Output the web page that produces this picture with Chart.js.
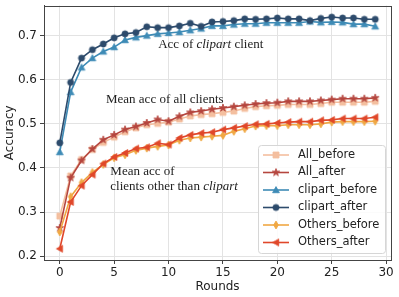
<!DOCTYPE html>
<html><head><meta charset="utf-8">
<script src="https://cdn.jsdelivr.net/npm/chart.js@4/dist/chart.umd.min.js"></script>
<style>html,body{margin:0;padding:0;background:#fff}#wrap{width:399px;height:297px;position:relative}</style>
</head><body><div id="wrap"><canvas id="c" width="399" height="297"></canvas></div>
<script>
const rounds = [0,1,2,3,4,5,6,7,8,9,10,11,12,13,14,15,16,17,18,19,20,21,22,23,24,25,26,27,28,29];
const allBefore = [0.291,0.382,0.419,0.442,0.458,0.470,0.482,0.491,0.498,0.501,0.504,0.511,0.518,0.521,0.523,0.526,0.529,0.535,0.539,0.541,0.542,0.544,0.544,0.544,0.546,0.549,0.549,0.549,0.549,0.551];
const allAfter = [0.264,0.378,0.417,0.443,0.464,0.475,0.487,0.494,0.502,0.510,0.506,0.517,0.526,0.529,0.533,0.536,0.539,0.542,0.545,0.547,0.548,0.551,0.551,0.551,0.553,0.555,0.557,0.557,0.557,0.559];
const clipartBefore = [0.436,0.572,0.628,0.649,0.664,0.674,0.690,0.696,0.700,0.704,0.706,0.708,0.712,0.716,0.722,0.722,0.725,0.727,0.727,0.729,0.729,0.729,0.729,0.732,0.730,0.731,0.730,0.726,0.726,0.721];
const clipartAfter = [0.457,0.594,0.649,0.668,0.681,0.695,0.704,0.707,0.720,0.718,0.718,0.722,0.728,0.721,0.731,0.732,0.734,0.738,0.737,0.738,0.740,0.738,0.738,0.734,0.739,0.742,0.740,0.740,0.737,0.737];
const othersBefore = [0.255,0.335,0.367,0.390,0.408,0.423,0.430,0.440,0.445,0.449,0.452,0.463,0.468,0.470,0.472,0.474,0.483,0.489,0.495,0.496,0.496,0.498,0.498,0.498,0.500,0.504,0.505,0.505,0.505,0.506];
const othersAfter = [0.217,0.323,0.360,0.385,0.410,0.425,0.434,0.444,0.447,0.456,0.453,0.468,0.475,0.479,0.481,0.487,0.491,0.495,0.499,0.500,0.502,0.504,0.505,0.505,0.508,0.509,0.512,0.512,0.512,0.515];
const seriesNames = ['All_before','All_after','clipart_before','clipart_after','Others_before','Others_after'];
const xTicks = [0,5,10,15,20,25,30];
const yTicks = [0.2,0.3,0.4,0.5,0.6,0.7];

const colors = ['#f4bf9f','#b5463f','#3e8bb6','#2d4b6c','#f0a844','#e0472a'];
const shapes = ['square','star','tri','circle','diamond','left'];

function marker(shape, color) {
  const size = 12;
  const c = document.createElement('canvas');
  c.width = size; c.height = size;
  const g = c.getContext('2d');
  const cx = size/2, cy = size/2;
  g.fillStyle = color; g.strokeStyle = color; g.lineWidth = 0.8;
  g.beginPath();
  if (shape === 'circle') { g.arc(cx, cy, 3.1, 0, Math.PI*2); }
  else if (shape === 'square') { g.rect(cx-3, cy-3, 6, 6); }
  else if (shape === 'tri') { const s=3.4; g.moveTo(cx, cy-s); g.lineTo(cx+s, cy+s*0.8); g.lineTo(cx-s, cy+s*0.8); g.closePath(); }
  else if (shape === 'left') { const s=3.4; g.moveTo(cx-s, cy); g.lineTo(cx+s*0.8, cy-s); g.lineTo(cx+s*0.8, cy+s); g.closePath(); }
  else if (shape === 'diamond') { g.moveTo(cx, cy-4); g.lineTo(cx+2.4, cy); g.lineTo(cx, cy+4); g.lineTo(cx-2.4, cy); g.closePath(); }
  else if (shape === 'star') {
    const R=4, r=R*0.382;
    for (let i=0;i<10;i++){ const a=-Math.PI/2 + i*Math.PI/5; const rr = i%2?r:R; const px=cx+rr*Math.cos(a), py=cy+rr*Math.sin(a); if(i===0) g.moveTo(px,py); else g.lineTo(px,py);} g.closePath();
  }
  g.fill(); g.stroke();
  return c;
}

const seriesData = [allBefore, allAfter, clipartBefore, clipartAfter, othersBefore, othersAfter];
const markers = colors.map((c,i)=>marker(shapes[i], c));
const datasets = seriesData.map((arr,i)=>({
  label: seriesNames[i],
  data: rounds.map((r,j)=>({x:r, y:arr[j]})),
  borderColor: colors[i],
  backgroundColor: colors[i],
  borderWidth: 1.6,
  pointStyle: markers[i],
  pointRadius: 3,
  tension: 0,
  order: 6 - i
}));

const annotations = [
  {x: 9.05, y: 0.680, parts: [['Acc of ', false], ['clipart', true], [' client', false]]},
  {x: 4.25, y: 0.555, parts: [['Mean acc of all clients', false]]},
  {x: 4.65, y: 0.392, parts: [['Mean acc of', false]]},
  {x: 4.65, y: 0.358, parts: [['clients other than ', false], ['clipart', true]]}
];

const textPlugin = {
  id: 'texts',
  afterDatasetsDraw(chart) {
    const ctx = chart.ctx, xs = chart.scales.x, ys = chart.scales.y;
    ctx.save();
    ctx.fillStyle = '#222';
    ctx.textBaseline = 'middle';
    annotations.forEach(a => {
      let px = xs.getPixelForValue(a.x);
      const py = ys.getPixelForValue(a.y);
      a.parts.forEach(([t, it]) => {
        ctx.font = (it ? 'italic ' : '') + '13px "Liberation Serif", "Times New Roman", serif';
        ctx.fillText(t, px, py);
        px += ctx.measureText(t).width;
      });
    });
    ctx.restore();
  }
};

const framePlugin = {
  id: 'frame',
  afterDraw(chart) {
    const ctx = chart.ctx, a = chart.chartArea;
    ctx.save();
    ctx.strokeStyle = '#444'; ctx.lineWidth = 1;
    ctx.strokeRect(Math.round(a.left)+0.5, Math.round(a.top)+0.5, Math.round(a.right-a.left), Math.round(a.bottom-a.top));
    // legend
    const bw = 127, bh = 108;
    const bx = a.right - 6 - bw, by = a.bottom - 7 - bh;
    ctx.beginPath();
    if (ctx.roundRect) ctx.roundRect(bx+0.5, by+0.5, bw, bh, 3); else ctx.rect(bx+0.5, by+0.5, bw, bh);
    ctx.fillStyle = 'rgba(255,255,255,0.85)';
    ctx.fill();
    ctx.strokeStyle = '#d6d6d6';
    ctx.stroke();
    ctx.font = '11.5px "DejaVu Sans", sans-serif';
    ctx.textBaseline = 'middle';
    seriesNames.forEach((n, i) => {
      const yy = by + 10 + 17.5*i;
      ctx.strokeStyle = colors[i]; ctx.lineWidth = 1.6;
      ctx.beginPath(); ctx.moveTo(bx+5, yy); ctx.lineTo(bx+31, yy); ctx.stroke();
      const m = markers[i];
      ctx.drawImage(m, bx+18 - m.width/2, yy - m.height/2);
      ctx.fillStyle = '#222';
      ctx.fillText(n, bx+40, yy);
    });
    ctx.restore();
  }
};

const tickFont = {family: '"DejaVu Sans", sans-serif', size: 12};
new Chart(document.getElementById('c'), {
  type: 'line',
  data: {datasets},
  options: {
    responsive: false,
    animation: false,
    layout: {padding: {top: 5, right: 8, left: 0, bottom: 0}},
    plugins: {legend: {display: false}, tooltip: {enabled: false}},
    scales: {
      x: {
        type: 'linear', min: -1.45, max: 30.45,
        afterBuildTicks: s => { s.ticks = xTicks.map(v => ({value: v})); },
        afterFit: s => { s.height = 37; s.paddingLeft = 0; s.paddingRight = 0; },
        ticks: {font: tickFont, color: '#222', padding: 2, maxRotation: 0, callback: v => String(v)},
        grid: {color: '#e3e3e3', lineWidth: 1, tickColor: '#444', tickLength: 4},
        border: {display: true, color: '#444'},
        title: {display: true, text: 'Rounds', font: tickFont, color: '#222', padding: {top: 0, bottom: 3}}
      },
      y: {
        type: 'linear', min: 0.1915, max: 0.768,
        afterBuildTicks: s => { s.ticks = yTicks.map(v => ({value: v})); },
        afterFit: s => { s.width = 44; s.paddingTop = 0; s.paddingBottom = 0; },
        ticks: {font: tickFont, color: '#222', padding: 3, callback: v => v.toFixed(1)},
        grid: {color: '#e3e3e3', lineWidth: 1, tickColor: '#444', tickLength: 4},
        border: {display: true, color: '#444'},
        title: {display: true, text: 'Accuracy', font: tickFont, color: '#222', padding: {top: 3, bottom: 0}}
      }
    }
  },
  plugins: [textPlugin, framePlugin]
});
</script>
</body></html>
